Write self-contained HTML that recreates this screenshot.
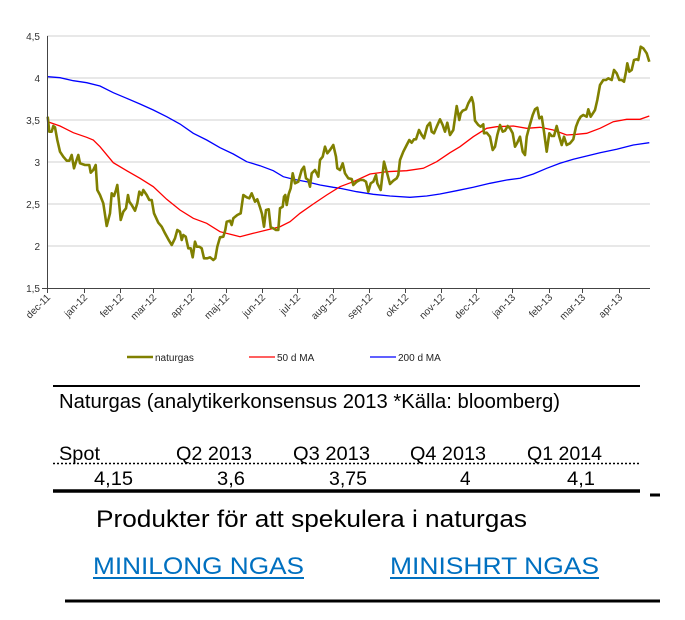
<!DOCTYPE html>
<html><head><meta charset="utf-8"><style>
html,body{margin:0;padding:0;background:#fff;width:685px;height:620px;overflow:hidden}
svg{display:block}
</style></head><body>
<svg id="s" width="685" height="620" xmlns="http://www.w3.org/2000/svg" font-family="Liberation Sans, sans-serif">
<g stroke="#d0d0d0" stroke-width="1">
<line x1="47" x2="650" y1="36" y2="36"/><line x1="47" x2="650" y1="78" y2="78"/><line x1="47" x2="650" y1="120" y2="120"/><line x1="47" x2="650" y1="162" y2="162"/><line x1="47" x2="650" y1="204" y2="204"/><line x1="47" x2="650" y1="246" y2="246"/>
</g>
<g font-size="10" fill="#333" text-anchor="end">
<text x="40" y="40">4,5</text><text x="40" y="82">4</text><text x="40" y="124">3,5</text><text x="40" y="166">3</text><text x="40" y="208">2,5</text><text x="40" y="250">2</text><text x="40" y="292">1,5</text>
</g>
<g id="ticks" stroke="#444" stroke-width="1"></g>
<g id="xl" font-size="10" fill="#333" text-anchor="end"></g>
<path id="blue" fill="none" stroke="#0000ff" stroke-width="1.3"/>
<path id="red" fill="none" stroke="#ff0000" stroke-width="1.3"/>
<path id="gas" fill="none" stroke="#808000" stroke-width="2.6" stroke-linejoin="round"/>
<line x1="47.5" y1="36" x2="47.5" y2="288" stroke="#444"/>
<line x1="42" y1="288.5" x2="650" y2="288.5" stroke="#444"/>
<g font-size="10" fill="#222">
<line x1="127" x2="153" y1="357" y2="357" stroke="#808000" stroke-width="2.5"/><text x="155" y="361">naturgas</text>
<line x1="249" x2="275" y1="357" y2="357" stroke="#ff0000" stroke-width="1.3"/><text x="277" y="361">50 d MA</text>
<line x1="370" x2="396" y1="357" y2="357" stroke="#0000ff" stroke-width="1.3"/><text x="398" y="361">200 d MA</text>
</g>
<line x1="53" x2="640" y1="386" y2="386" stroke="#000" stroke-width="2"/>
<text x="59" y="408" font-size="20" textLength="501" lengthAdjust="spacingAndGlyphs">Naturgas (analytikerkonsensus 2013 *Källa: bloomberg)</text>
<g font-size="19">
<text x="59" y="460" textLength="41" lengthAdjust="spacingAndGlyphs">Spot</text>
<text x="176" y="460" textLength="76" lengthAdjust="spacingAndGlyphs">Q2 2013</text>
<text x="293" y="460" textLength="77" lengthAdjust="spacingAndGlyphs">Q3 2013</text>
<text x="410" y="460" textLength="76" lengthAdjust="spacingAndGlyphs">Q4 2013</text>
<text x="527" y="460" textLength="75" lengthAdjust="spacingAndGlyphs">Q1 2014</text>
<text x="94" y="485" textLength="39" lengthAdjust="spacingAndGlyphs">4,15</text>
<text x="217" y="485" textLength="28" lengthAdjust="spacingAndGlyphs">3,6</text>
<text x="329" y="485" textLength="38" lengthAdjust="spacingAndGlyphs">3,75</text>
<text x="460" y="485">4</text>
<text x="567" y="485" textLength="28" lengthAdjust="spacingAndGlyphs">4,1</text>
</g>
<line x1="53" x2="640" y1="463.5" y2="463.5" stroke="#000" stroke-width="1.5" stroke-dasharray="2,2"/>
<line x1="53" x2="640" y1="491" y2="491" stroke="#000" stroke-width="3.5"/>
<line x1="650" x2="660" y1="495" y2="495" stroke="#000" stroke-width="3"/>
<text x="96" y="527" font-size="24" textLength="431" lengthAdjust="spacingAndGlyphs">Produkter för att spekulera i naturgas</text>
<g font-size="24" fill="#0070c0">
<text x="93" y="574" textLength="211" lengthAdjust="spacingAndGlyphs">MINILONG NGAS</text>
<text x="390" y="574" textLength="209" lengthAdjust="spacingAndGlyphs">MINISHRT NGAS</text>
</g>
<line x1="93" x2="304" y1="578" y2="578" stroke="#0070c0" stroke-width="2"/>
<line x1="390" x2="599" y1="578" y2="578" stroke="#0070c0" stroke-width="2"/>
<line x1="65" x2="660" y1="601" y2="601" stroke="#000" stroke-width="3"/>
</svg>
<script>
var NS="http://www.w3.org/2000/svg";
function mk(a,b){var p=[];for(var i=0;i<a.length;i+=2)p.push(a[i]/3,a[i+1]/3);for(i=0;i<b.length;i+=2)p.push(b[i]/3+340,b[i+1]/3);var d="M"+p[0].toFixed(1)+" "+p[1].toFixed(1);for(i=2;i<p.length;i+=2)d+=" L"+p[i].toFixed(1)+" "+p[i+1].toFixed(1);return d;}
var g1=[143,350,148,395,155,395,160,378,165,382,172,420,180,455,190,470,200,482,208,482,215,465,222,505,228,485,235,465,240,490,255,495,268,495,272,518,280,510,287,495,292,570,300,585,310,610,320,678,330,640,335,580,342,588,348,570,352,555,358,615,362,660,370,635,378,625,384,585,388,605,395,615,405,632,412,610,418,575,425,585,430,570,440,585,448,600,455,600,462,640,475,668,485,680,495,700,505,718,515,735,525,715,532,690,540,695,545,720,550,705,557,710,565,745,572,745,578,772,585,725,590,740,598,740,605,745,612,775,622,775,630,772,640,780,646,775,652,740,660,712,670,710,676,690,680,665,690,662,695,675,700,655,712,645,722,640,730,585,740,592,748,595,755,580,765,605,772,598,780,622,786,642,792,680,798,630,806,628,812,682,820,685,828,690,835,690,840,625,848,620,852,590,856,585,860,615,866,582,872,565,878,520,885,550,895,545,905,510,912,500,918,535,925,540,930,560,935,520,945,510,950,520,955,530,960,480,968,470,975,440,982,460,990,450,1000,435,1008,470,1012,505,1020,510];
var g2=[8,490,15,520,25,535,35,537,40,555,50,545,60,540,70,540,78,545,85,575,92,550,100,545,108,525,112,550,122,570,132,485,140,515,150,552,160,542,170,535,175,525,180,480,190,455,200,435,208,420,215,428,222,418,228,418,237,390,245,405,252,415,262,378,270,368,275,395,282,400,290,380,300,358,308,375,315,395,322,368,330,405,340,390,350,318,358,360,362,340,368,332,378,328,385,310,395,292,400,310,405,362,415,375,422,380,430,373,432,400,440,398,450,410,458,450,465,440,472,405,480,375,488,395,495,392,503,378,510,385,518,400,525,440,532,428,540,410,548,455,555,465,560,410,568,380,578,345,585,328,592,323,598,355,605,350,612,395,620,455,628,400,635,408,642,408,650,378,658,410,665,435,672,410,680,435,690,430,700,418,708,380,715,362,722,350,730,345,740,350,745,328,752,350,760,338,765,330,772,300,780,255,790,240,798,240,805,235,815,240,822,210,830,220,838,240,845,240,852,245,858,215,862,190,868,215,875,210,882,180,890,178,895,180,902,140,910,145,920,160,928,185];
var b1=[143,230,180,233,220,242,260,248,300,258,340,278,380,295,420,312,460,330,500,350,540,372,580,400,620,420,660,443,700,462,740,485,780,497,820,512,850,530,880,538,920,545,960,555,1000,562,1020,565];
var b2=[50,575,100,583,150,588,210,592,260,588,300,582,350,572,400,562,450,550,500,540,540,535,580,522,620,505,660,490,700,478,740,468,780,458,830,448,880,435,928,428];
var r1=[143,365,180,378,220,398,260,412,280,420,300,440,340,488,380,512,420,535,460,560,500,598,540,630,580,655,620,670,660,695,700,705,720,710,760,700,800,690,840,680,870,665,900,640,940,612,980,585,1020,560];
var r2=[40,545,90,522,140,515,200,512,250,505,290,485,330,458,360,440,400,410,440,385,470,380,520,378,560,385,600,382,640,390,680,405,710,403,740,400,780,385,820,365,860,358,900,358,928,348];
document.getElementById("gas").setAttribute("d",mk(g1,g2));
document.getElementById("blue").setAttribute("d",mk(b1,b2));
document.getElementById("red").setAttribute("d",mk(r1,r2));
var tx=[47,84,120,153,191,226,262,297,333,369,405,441,476,512,549,582,619];
var lb=["dec-11","jan-12","feb-12","mar-12","apr-12","maj-12","jun-12","jul-12","aug-12","sep-12","okt-12","nov-12","dec-12","jan-13","feb-13","mar-13","apr-13"];
var T=document.getElementById("ticks"),X=document.getElementById("xl");
for(var i=0;i<tx.length;i++){var l=document.createElementNS(NS,"line");l.setAttribute("x1",tx[i]+0.5);l.setAttribute("x2",tx[i]+0.5);l.setAttribute("y1",288);l.setAttribute("y2",293);T.appendChild(l);
var t=document.createElementNS(NS,"text");t.setAttribute("transform","translate("+(tx[i]+4)+",298) rotate(-45)");t.textContent=lb[i];X.appendChild(t);}
</script>
</body></html>
